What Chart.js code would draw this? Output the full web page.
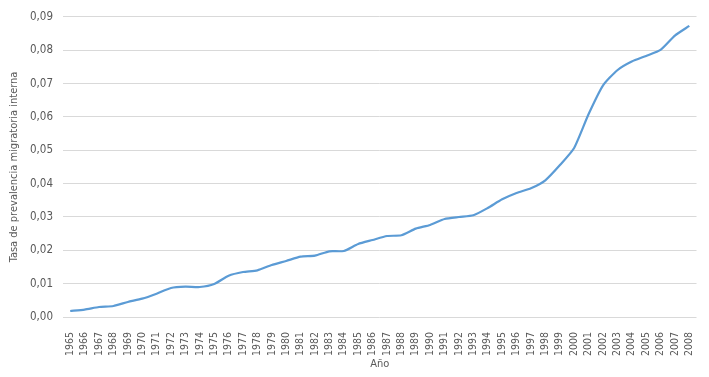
<!DOCTYPE html>
<html>
<head>
<meta charset="utf-8">
<script src="https://cdn.jsdelivr.net/npm/chart.js@4.4.1/dist/chart.umd.min.js"></script>
<style>
  html, body { margin: 0; padding: 0; background: #fff; }
  #wrap { width: 709px; height: 377px; position: relative; }
</style>
</head>
<body>
<div id="wrap"><canvas id="c" width="709" height="377"></canvas></div>
<script>
// años y tasa de prevalencia migratoria interna
const years = [];
for (let y = 1965; y <= 2008; y++) years.push(String(y));

const rate = [
  0.0018, 0.0022, 0.0030, 0.0033, 0.0045, 0.0055, 0.0070, 0.0087, 0.0091, 0.0090,
  0.0099, 0.0124, 0.0135, 0.0140, 0.0156, 0.0168, 0.0181, 0.0184, 0.0197, 0.0198,
  0.0219, 0.0231, 0.0243, 0.0245, 0.0265, 0.0276, 0.0294, 0.0300, 0.0305, 0.0327,
  0.0353, 0.0372, 0.0386, 0.0410, 0.0455, 0.0507, 0.0608, 0.0694, 0.0740, 0.0766,
  0.0783, 0.0801, 0.0844, 0.0873
];

const Y_MIN = 0, Y_MAX = 0.09, Y_STEP = 0.01;
const FONT = "'DejaVu Sans Condensed', 'Liberation Sans Narrow', sans-serif";
const GREY = "#595959";

new Chart(document.getElementById("c"), {
  type: "line",
  data: {
    labels: years,
    datasets: [{
      data: rate,
      borderColor: "#5b9bd5",
      borderWidth: 2.2,
      pointRadius: 0,
      tension: 0.2,
      fill: false,
    }],
  },
  options: {
    responsive: false,
    animation: false,
    layout: { padding: { top: 15, right: 8, left: 4, bottom: 0 } },
    plugins: { legend: { display: false }, tooltip: { enabled: false } },
    scales: {
      x: {
        offset: true,
        grid: { display: false },
        border: { display: false },
        ticks: {
          autoSkip: false, minRotation: 90, maxRotation: 90,
          color: GREY, font: { family: FONT, size: 10.5 }, padding: 7,
        },
        title: { display: true, text: "Año", color: GREY,
          font: { family: FONT, size: 11 }, padding: { top: 4, bottom: 6 } },
        afterFit: (s) => { s.height = 60; },
      },
      y: {
        min: Y_MIN, max: Y_MAX,
        grid: { color: "#d9d9d9", lineWidth: 1, drawTicks: false },
        border: { display: false },
        ticks: {
          stepSize: Y_STEP, color: GREY, font: { family: FONT, size: 11.5 }, padding: 10,
          callback: (v) => v.toFixed(2).replace(".", ","),
        },
        title: { display: true, text: "Tasa de prevalencia migratoria interna", color: GREY,
          font: { family: FONT, size: 11 }, padding: { bottom: 7 } },
        afterFit: (s) => { s.width = 59; },
      },
    },
  },
});
</script>
</body>
</html>
